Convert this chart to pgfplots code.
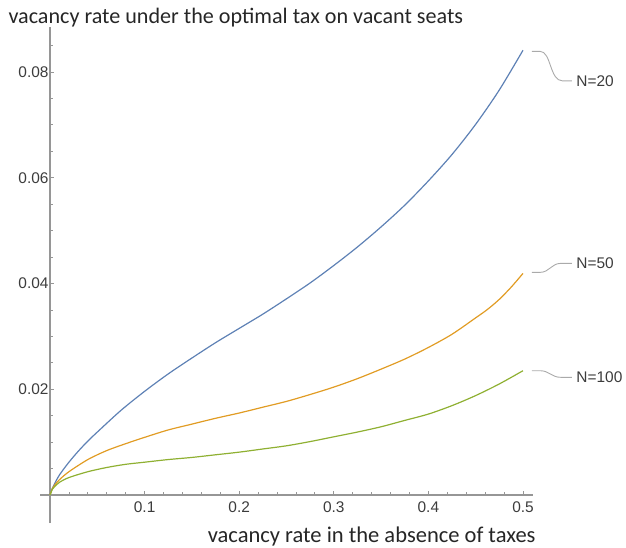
\documentclass[border=0pt]{standalone}
\usepackage{pgfplots}
\pgfplotsset{compat=1.18}
\usepackage{fontspec}
\setmainfont{Carlito}
\newfontfamily\tickfont{Liberation Sans}

\definecolor{mblue}{rgb}{0.368417,0.506779,0.709798}
\definecolor{morange}{rgb}{0.880722,0.611041,0.142051}
\definecolor{mgreen}{rgb}{0.560181,0.691569,0.194885}
\definecolor{axgray}{RGB}{150,150,150}
\definecolor{leadgray}{RGB}{170,170,170}
\definecolor{ticktext}{RGB}{60,60,60}

\begin{document}
\begin{tikzpicture}
\useasboundingbox (-40bp,-25bp) rectangle (586bp,523bp);
\begin{axis}[%
    ,scale only axis, width=493bp, height=496bp
    ,xmin=-0.0106, xmax=0.5106, ymin=-0.0053, ymax=0.0885
    ,axis lines*=middle
    ,axis line style={axgray, line width=1.1bp}
    ,scaled ticks=false
    ,xtick={0.1,0.2,0.3,0.4,0.5}
    ,xticklabels={0.1,0.2,0.3,0.4,0.5}
    ,ytick={0.02,0.04,0.06,0.08}
    ,yticklabels={0.02,0.04,0.06,0.08}
    ,minor xtick={0.02,0.04,0.06,0.08,0.12,0.14,0.16,0.18,0.22,0.24,0.26,0.28,0.32,0.34,0.36,0.38,0.42,0.44,0.46,0.48}
    ,minor ytick={0.005,0.01,0.015,0.025,0.03,0.035,0.045,0.05,0.055,0.065,0.07,0.075,0.085}
    ,tick align=inside, major tick length=4bp, minor tick length=2.5bp
    ,tick style={axgray, line width=0.8bp}
    ,ticklabel style={font=\tickfont\fontsize{15.5}{18}\selectfont, text=ticktext}
    ,xticklabel style={yshift=-3bp}
    ,yticklabel style={xshift=2bp}
    ,clip=false
    ,every axis x label/.style={at={(rel axis cs:1.0122,-0.0403)}, anchor=base east, font=\fontsize{22.6}{26}\selectfont}
    ,every axis y label/.style={at={(rel axis cs:-0.071,1.008)}, anchor=base west, font=\fontsize{22.2}{26}\selectfont}
    ,label style={text=black!85}
    ,xlabel={vacancy rate in the absence of taxes}
    ,ylabel={vacancy rate under the optimal tax on vacant seats}
    ]
% N=20
\addplot[mblue, line width=1.2bp, smooth] coordinates {
(0,0) (0.0025,0.0013) (0.005,0.0022) (0.01,0.0038) (0.02,0.0062) (0.03,0.0083) (0.04,0.0102)
(0.05,0.0119) (0.075,0.0160) (0.1,0.0196) (0.125,0.0229) (0.15,0.0259)
(0.175,0.0288) (0.2,0.0315) (0.225,0.0342) (0.25,0.0371) (0.275,0.0401)
(0.3,0.0434) (0.325,0.0469) (0.35,0.0507) (0.375,0.0548) (0.4,0.0594)
(0.425,0.0644) (0.45,0.0701) (0.475,0.0766) (0.5,0.0841)};
% N=50
\addplot[morange, line width=1.2bp, smooth] coordinates {
(0,0) (0.0025,0.0012) (0.005,0.0019) (0.01,0.0029) (0.02,0.0044) (0.04,0.0067) (0.06,0.0084)
(0.08,0.0097) (0.1,0.0109) (0.125,0.0123) (0.15,0.0134) (0.175,0.0145)
(0.2,0.0155) (0.225,0.0166) (0.25,0.0177) (0.275,0.0190) (0.3,0.0204)
(0.325,0.0220) (0.35,0.0238) (0.375,0.0257) (0.4,0.0279) (0.425,0.0304)
(0.45,0.0335) (0.4625,0.0351) (0.475,0.0370) (0.4875,0.0393) (0.5,0.0419)};
% N=100
\addplot[mgreen, line width=1.2bp, smooth] coordinates {
(0,0) (0.0025,0.0011) (0.005,0.0016) (0.01,0.0024) (0.02,0.0033) (0.04,0.0044) (0.06,0.0052)
(0.08,0.0058) (0.1,0.0062) (0.125,0.0067) (0.15,0.0071) (0.175,0.0076)
(0.2,0.0081) (0.225,0.0087) (0.25,0.0093) (0.275,0.0101) (0.3,0.0110)
(0.325,0.0119) (0.35,0.0129) (0.375,0.0141) (0.4,0.0153) (0.425,0.0169)
(0.45,0.0188) (0.475,0.0210) (0.5,0.0235)};
% callouts
\begin{scope}[leadgray, line width=0.9bp]
\draw (axis cs:0.5095,0.0839) -- (axis cs:0.518,0.0839)
  .. controls (axis cs:0.530,0.0839) and (axis cs:0.528,0.0783) .. (axis cs:0.542,0.0783)
  -- (axis cs:0.5518,0.0783)
  node[anchor=west, inner sep=0pt, xshift=4bp, text=ticktext, font=\tickfont\fontsize{15.5}{18}\selectfont] {N=20};
\draw (axis cs:0.5095,0.0421) -- (axis cs:0.518,0.0421)
  .. controls (axis cs:0.528,0.0421) and (axis cs:0.530,0.0438) .. (axis cs:0.540,0.0438)
  -- (axis cs:0.5518,0.0438)
  node[anchor=west, inner sep=0pt, xshift=4bp, text=ticktext, font=\tickfont\fontsize{15.5}{18}\selectfont] {N=50};
\draw (axis cs:0.5095,0.0235) -- (axis cs:0.518,0.0235)
  .. controls (axis cs:0.528,0.0235) and (axis cs:0.530,0.02225) .. (axis cs:0.540,0.02225)
  -- (axis cs:0.5518,0.02225)
  node[anchor=west, inner sep=0pt, xshift=4bp, text=ticktext, font=\tickfont\fontsize{15.5}{18}\selectfont] {N=100};
\end{scope}
\end{axis}
\end{tikzpicture}
\end{document}
